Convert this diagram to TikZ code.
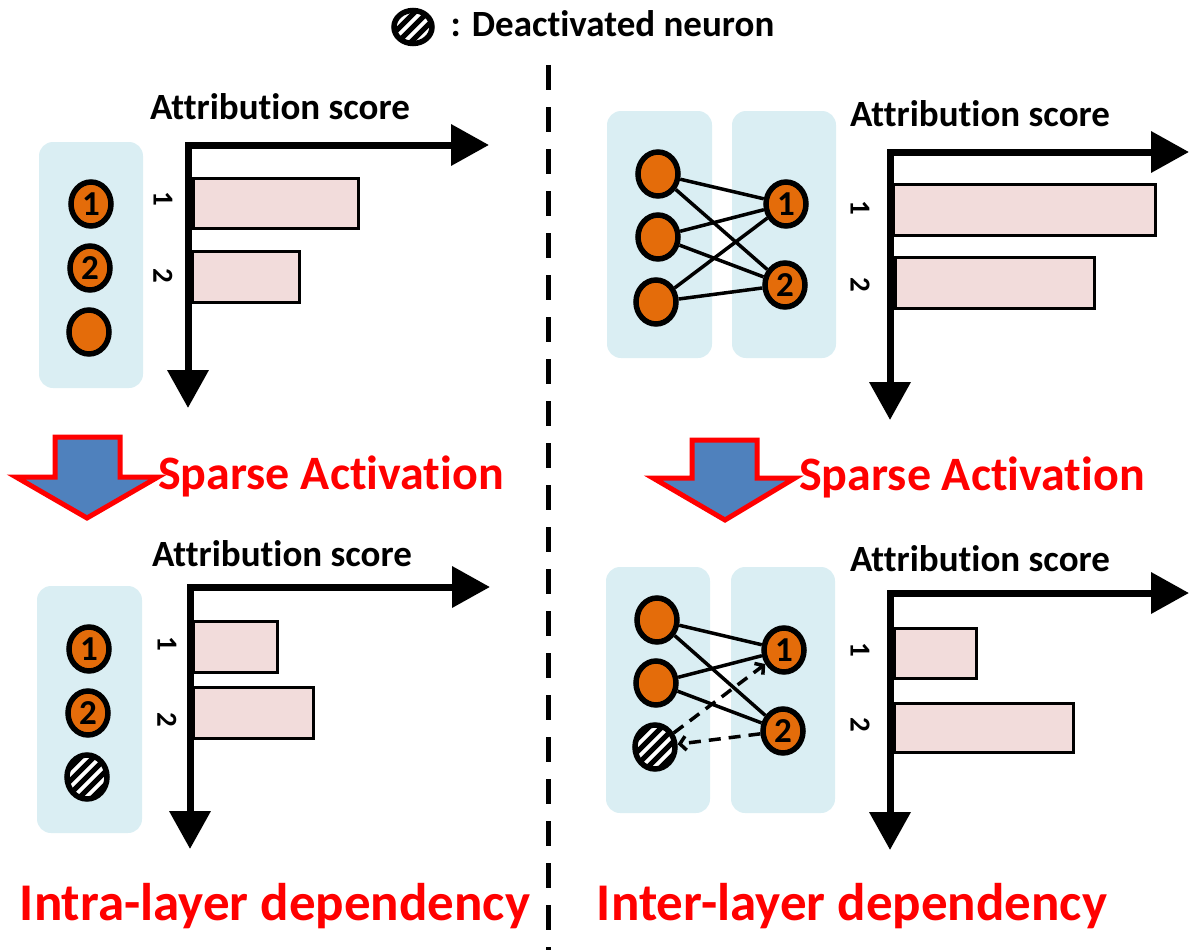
\documentclass[tikz,border=0pt]{standalone}
\usepackage{fontspec}
\setmainfont{Carlito}[Ligatures={NoCommon}]
\usetikzlibrary{arrows.meta,shapes.geometric,calc}
\definecolor{panelblue}{HTML}{DAEEF3}
\definecolor{neuronorange}{HTML}{E46C0A}
\definecolor{barpink}{HTML}{F2DCDB}
\definecolor{arrowblue}{HTML}{4F81BD}
\tikzset{
  panel/.style={fill=panelblue, rounded corners=14pt},
  neuron/.style={ellipse, draw=black, line width=5.5pt, fill=neuronorange,
    minimum width=40pt, minimum height=44pt, inner sep=0pt,
    font=\bfseries\fontsize{35}{35}\selectfont},
  deadneuron/.style={neuron, fill=white,
    path picture={\foreach \k in {-4,...,4}{\draw[line width=5pt]
      ($(path picture bounding box.center)+(\k*13pt-30pt,-30pt)$) -- ++(60pt,60pt);}}},
  bar/.style={draw=black, line width=3pt, fill=barpink},
  axis/.style={line width=7pt, line join=miter,
    {Triangle[length=38pt,width=40pt]}-{Triangle[length=38pt,width=40pt]}},
  conn/.style={line width=3.5pt},
  dconn/.style={line width=3.5pt, dash pattern=on 12pt off 8pt, -{Straight Barb[length=6pt,width=14pt]}},
  scoretitle/.style={anchor=base, font=\bfseries\fontsize{37}{37}\selectfont},
  catlabel/.style={rotate=-90, font=\bfseries\fontsize{29}{29}\selectfont},
  bigarrow/.style={fill=arrowblue, draw=red, line width=5pt, line join=miter},
  sparse/.style={anchor=base, text=red, font=\bfseries\fontsize{48}{48}\selectfont},
  deptext/.style={anchor=base, text=red, font=\bfseries\fontsize{53}{53}\selectfont},
  legendtext/.style={anchor=base west, font=\bfseries\fontsize{37}{37}\selectfont},
  divider/.style={line width=5pt, dash pattern=on 25pt off 17pt},
}
\begin{document}
\begin{tikzpicture}[x=1pt,y=-1pt]
\useasboundingbox (0,0) rectangle (1191,950);

% legend
\node[deadneuron, minimum width=38pt, minimum height=33pt] (leg) at (413,27) {};
\node[legendtext] (legt) at (447,37) {: Deactivated neuron};

% divider
\coordinate (dtop) at (548,65);
\coordinate (dbot) at (548,950);
\draw[divider] (dtop) -- (dbot);

% ---------- top left ----------
\fill[panel] (39,142) rectangle (143,388);
\node[neuron] (a1) at (91,204) {1};
\node[neuron] (a2) at (90,268) {2};
\node[neuron] (a3) at (89,332) {};
\draw[bar] (193,178) rectangle (358,228);
\draw[bar] (192,251) rectangle (299,302);
\coordinate (ao) at (188,145);
\coordinate (ay) at (188,408);
\coordinate (ax) at (489,145);
\draw[axis] (ay) -- (ao) -- (ax);
\node[catlabel] (al1) at (163,199) {1};
\node[catlabel] (al2) at (163,276) {2};
\node[scoretitle] (at) at (280,119) {Attribution score};

% arrow left
\draw[bigarrow] (55,437) -- (120,437) -- (120,477) -- (158,477) -- (87,518) -- (16,477) -- (55,477) -- cycle;
\node[sparse] (sa1) at (331,489) {Sparse Activation};

% ---------- bottom left ----------
\fill[panel] (37,586) rectangle (142,833);
\node[neuron] (e1) at (89,649) {1};
\node[neuron] (e2) at (88,713) {2};
\node[deadneuron] (e3) at (87,777) {};
\draw[bar] (193,621) rectangle (277,672);
\draw[bar] (193,687) rectangle (313,738);
\coordinate (eo) at (190,587);
\coordinate (ey) at (190,849);
\coordinate (ex) at (490,587);
\draw[axis] (ey) -- (eo) -- (ex);
\node[catlabel] (el1) at (167,644) {1};
\node[catlabel] (el2) at (167,720) {2};
\node[scoretitle] (et) at (282,566) {Attribution score};
\node[deptext] (intra) at (275,920) {Intra-layer dependency};

% ---------- top right ----------
\fill[panel] (607,111) rectangle (712,358);
\fill[panel] (732,111) rectangle (836,358);
\node[neuron] (b1) at (658,174) {};
\node[neuron] (b2) at (658,237) {};
\node[neuron] (b3) at (656,302) {};
\node[neuron] (r1) at (786,204) {1};
\node[neuron] (r2) at (785,285) {2};
\foreach \s in {b1,b2,b3}{\foreach \t in {r1,r2}{\draw[conn] (\s) -- (\t);}}
\draw[bar] (893,184) rectangle (1155,235);
\draw[bar] (895,257) rectangle (1094,308);
\coordinate (bo) at (890,152);
\coordinate (by) at (890,420);
\coordinate (bx) at (1189,152);
\draw[axis] (by) -- (bo) -- (bx);
\node[catlabel] (bl1) at (860,208) {1};
\node[catlabel] (bl2) at (860,285) {2};
\node[scoretitle] (bt) at (980,126) {Attribution score};

% arrow right
\draw[bigarrow] (692,440) -- (757,440) -- (757,478) -- (795,478) -- (725,520) -- (653,478) -- (692,478) -- cycle;
\node[sparse] (sa2) at (972,490) {Sparse Activation};

% ---------- bottom right ----------
\fill[panel] (606,567) rectangle (710,813);
\fill[panel] (731,567) rectangle (835,813);
\node[neuron] (c1) at (657,620) {};
\node[neuron] (c2) at (656,683) {};
\node[deadneuron] (c3) at (655,747) {};
\node[neuron] (s1) at (784,650) {1};
\node[neuron] (s2) at (783,731) {2};
\draw[conn] (c1) -- (s1);
\draw[conn] (c1) -- (s2);
\draw[conn] (c2) -- (s1);
\draw[conn] (c2) -- (s2);
\draw[dconn] (c3) -- (s1);
\draw[dconn] (s2) -- (c3);
\draw[bar] (894,628) rectangle (976,678);
\draw[bar] (894,703) rectangle (1073,752);
\coordinate (co) at (890,593);
\coordinate (cy) at (890,850);
\coordinate (cx) at (1189,593);
\draw[axis] (cy) -- (co) -- (cx);
\node[catlabel] (cl1) at (860,650) {1};
\node[catlabel] (cl2) at (860,725) {2};
\node[scoretitle] (ct) at (980,571) {Attribution score};
\node[deptext] (inter) at (852,920) {Inter-layer dependency};
\end{tikzpicture}
\end{document}
